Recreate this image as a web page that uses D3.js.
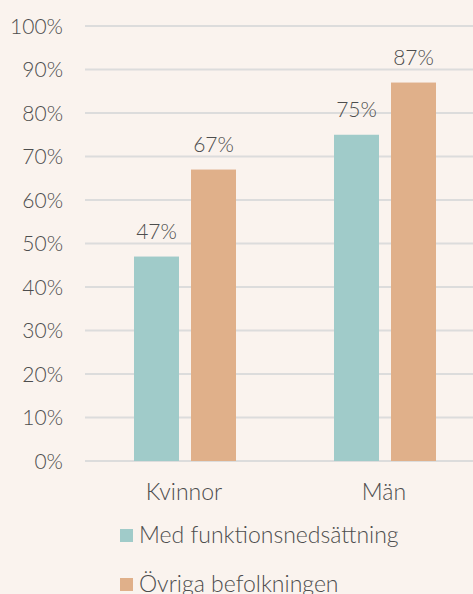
<html>
<head>
<meta charset="utf-8">
<script src="https://d3js.org/d3.v7.min.js"></script>
<style>
  body { margin: 0; background: #faf3ee; }
  text { font-family: Lato, "Open Sans", sans-serif; font-weight: 300; fill: #4d4d4d; }
</style>
</head>
<body>
<div id="chart"></div>
<script>
var categories = ["Kvinnor", "Män"];
var seriesNames = ["Med funktionsnedsättning", "Övriga befolkningen"];
var medFunk = [47, 75];
var ovriga = [67, 87];
var yTicks = [0, 10, 20, 30, 40, 50, 60, 70, 80, 90, 100];
var colors = ["#a0cbc9", "#e0b08a"];

var W = 473, H = 594;
var svg = d3.select("#chart").append("svg")
    .attr("width", W).attr("height", H);

svg.append("rect").attr("width", W).attr("height", H).attr("fill", "#faf3ee");

var y = d3.scaleLinear().domain([0, 100]).range([461, 26]);
var x = d3.scaleBand().domain(categories).range([85, 485]).paddingInner(0).paddingOuter(0);

// gridlines
svg.selectAll(".grid").data(yTicks).enter().append("line")
  .attr("x1", 85).attr("x2", W)
  .attr("y1", function(d) { return y(d); })
  .attr("y2", function(d) { return y(d); })
  .attr("stroke", "#dcdcdc").attr("stroke-width", 2);

// y labels
svg.selectAll(".ylab").data(yTicks).enter().append("text")
  .attr("x", 63)
  .attr("y", function(d) { return y(d) + 7.5; })
  .attr("text-anchor", "end")
  .style("font-size", "21px")
  .text(function(d) { return d + "%"; });

var data = [];
categories.forEach(function(c, i) {
  data.push({cat: c, s: 0, v: medFunk[i]});
  data.push({cat: c, s: 1, v: ovriga[i]});
});

var barW = 45, gap = 12;
function bx(d) {
  var c = x(d.cat) + x.bandwidth() / 2;
  return d.s == 0 ? c - gap / 2 - barW : c + gap / 2;
}

svg.selectAll(".bar").data(data).enter().append("rect")
  .attr("x", bx)
  .attr("width", barW)
  .attr("y", function(d) { return y(d.v); })
  .attr("height", function(d) { return y(0) - y(d.v); })
  .attr("fill", function(d) { return colors[d.s]; });

svg.selectAll(".val").data(data).enter().append("text")
  .attr("x", function(d) { return bx(d) + barW / 2; })
  .attr("y", function(d) { return y(d.v) - 18; })
  .attr("text-anchor", "middle")
  .style("font-size", "21px")
  .text(function(d) { return d.v + "%"; });

// x labels
svg.selectAll(".xlab").data(categories).enter().append("text")
  .attr("x", function(d) { return x(d) + x.bandwidth() / 2 - 1; })
  .attr("y", 500)
  .attr("text-anchor", "middle")
  .style("font-size", "23px")
  .text(function(d) { return d; });

// legend
var leg = svg.selectAll(".leg").data(seriesNames).enter().append("g")
  .attr("transform", function(d, i) { return "translate(120," + (529 + i * 49) + ")"; });
leg.append("rect").attr("width", 13).attr("height", 13)
  .attr("fill", function(d, i) { return colors[i]; });
leg.append("text").attr("x", 19).attr("y", 14)
  .style("font-size", "23px")
  .text(function(d) { return d; });
</script>
</body>
</html>
